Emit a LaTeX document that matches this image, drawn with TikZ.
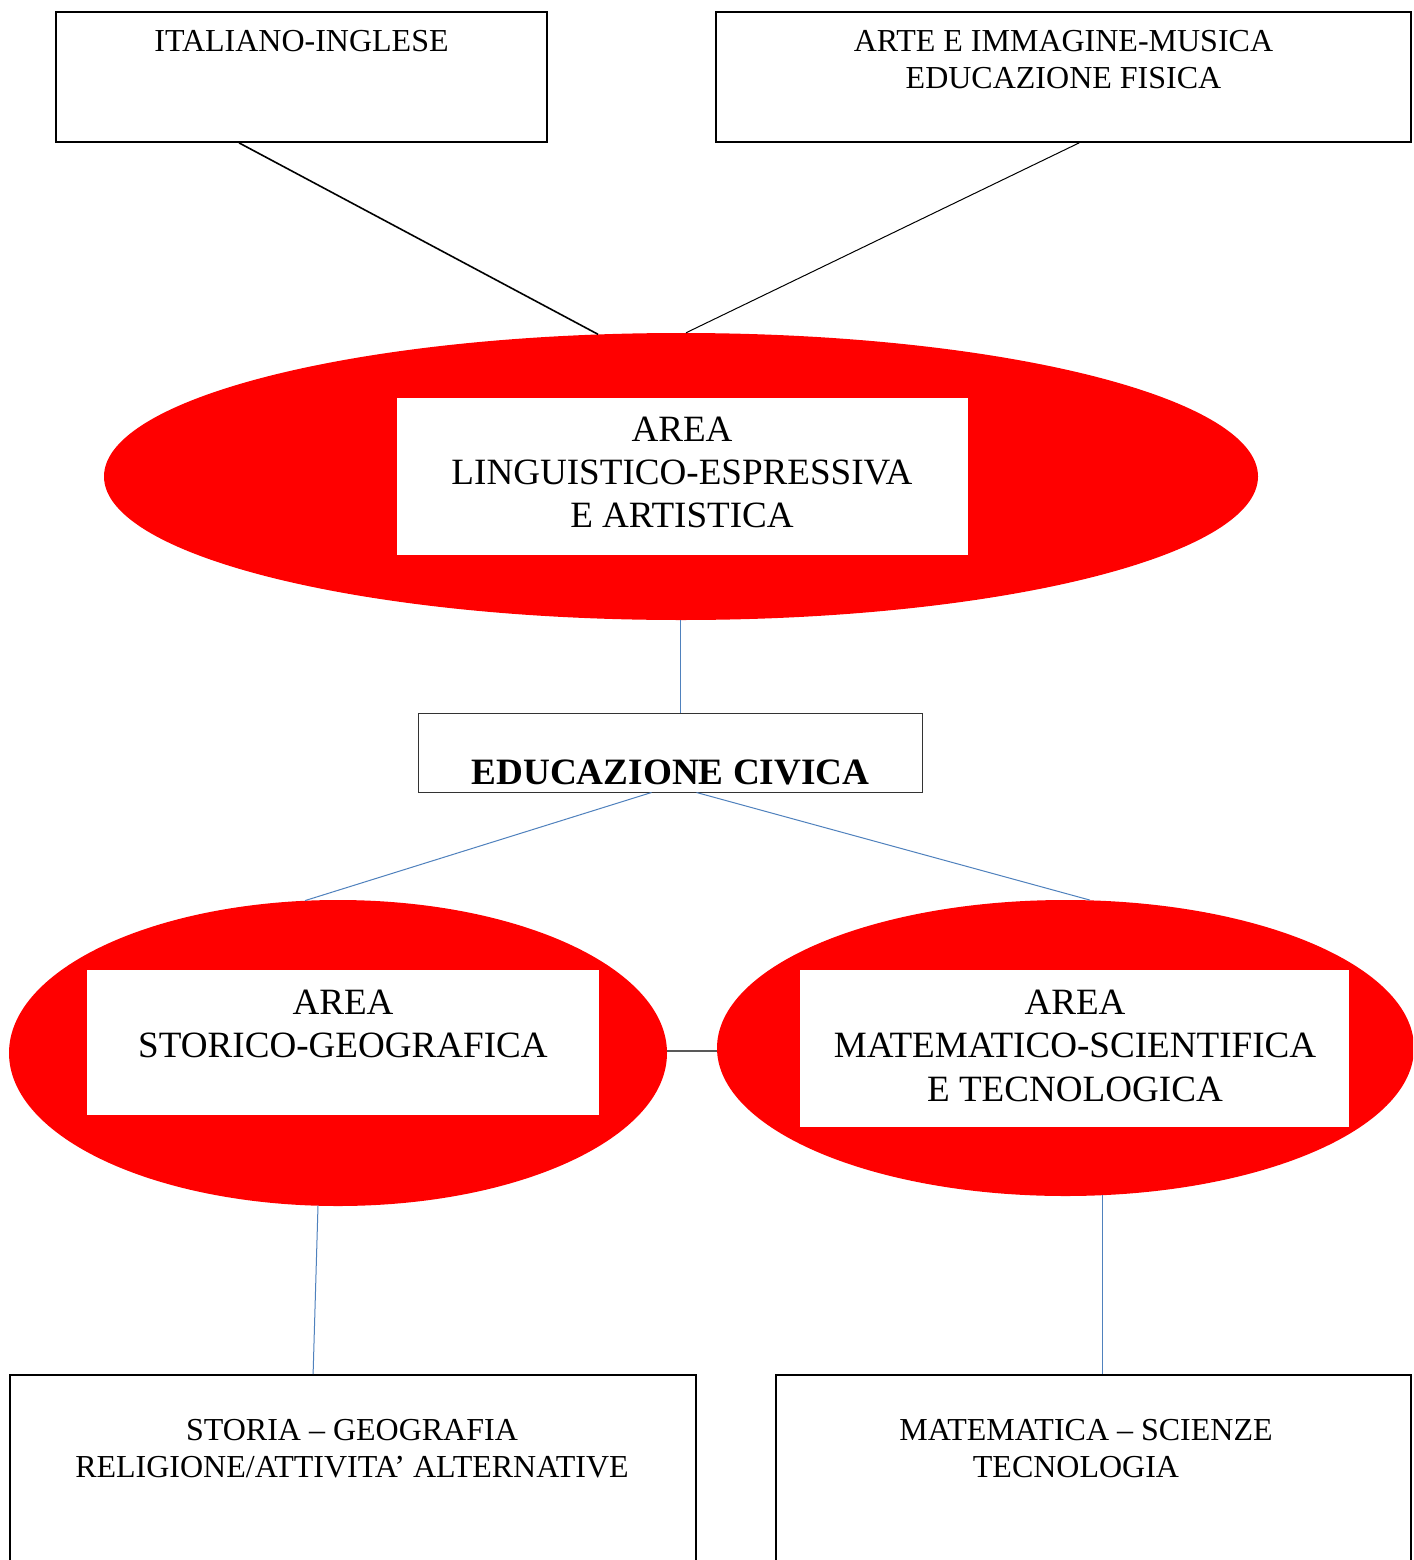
\documentclass[tikz,border=0pt]{standalone}
\usepackage{fontspec}
\setmainfont{Liberation Serif}
\usetikzlibrary{shapes.geometric,calc}
\definecolor{conblue}{HTML}{4F81BD}
\definecolor{areared}{HTML}{FF0000}
\begin{document}
\begin{tikzpicture}[x=1pt,y=-1pt,
  subjbox/.style={draw=black,line width=1.8pt,inner sep=0pt},
  areaell/.style={ellipse,fill=areared,draw=none,inner sep=0pt},
  whitebox/.style={fill=white,draw=none,inner sep=0pt},
  civbox/.style={draw=black!80,line width=1pt,inner sep=0pt},
  smalltxt/.style={anchor=north,inner sep=0pt,align=center,font=\fontsize{32}{36.7}\selectfont},
  bigtxt/.style={anchor=north,inner sep=0pt,align=center,font=\fontsize{37.1}{43.2}\selectfont},
  blueline/.style={draw=conblue,line width=1pt},
  blackline/.style={draw=black,line width=1.6pt},
  thinline/.style={draw=black,line width=1pt},
  grayline/.style={draw=black!65,line width=1.2pt}
]
\useasboundingbox (0,0) rectangle (1413,1560);
\clip (0,0) rectangle (1413,1560);
\fill[white] (0,0) rectangle (1413,1560);

% top subject boxes
\node[subjbox,minimum width=491pt,minimum height=130pt] (box1) at (301.5,77) {};
\node[subjbox,minimum width=695pt,minimum height=130pt] (box2) at (1063.5,77) {};
\node[smalltxt] (t1) at (301.5,30.1) {ITALIANO-INGLESE};
\node[smalltxt] (t2) at (1063.5,30.1) {ARTE E IMMAGINE-MUSICA\\EDUCAZIONE FISICA};

% top area ellipse
\node[areaell,minimum width=1154pt,minimum height=287pt] (ell1) at (681,476.5) {};
\node[whitebox,minimum width=571pt,minimum height=157pt] (wr1) at (682.5,476.5) {};
\node[bigtxt] (t3) at (682,416.9) {AREA\\LINGUISTICO-ESPRESSIVA\\E ARTISTICA};

% educazione civica
\node[civbox,minimum width=504pt,minimum height=79pt] (civ) at (670,752.5) {};
\node[anchor=base,inner sep=0pt,font=\fontsize{37.2}{43}\selectfont\bfseries] (t4) at (670.5,784.3) {EDUCAZIONE CIVICA};

% lower area ellipses
\node[areaell,minimum width=658pt,minimum height=306pt] (ell2) at (338,1053) {};
\node[whitebox,minimum width=512pt,minimum height=145pt] (wr2) at (343,1042.5) {};
\node[bigtxt] (t5) at (343,990) {AREA\\STORICO-GEOGRAFICA};

\node[areaell,minimum width=697pt,minimum height=296pt] (ell3) at (1065.5,1048) {};
\node[whitebox,minimum width=549pt,minimum height=157pt] (wr3) at (1074.5,1048.5) {};
\node[bigtxt] (t6) at (1075,990) {AREA\\MATEMATICO-SCIENTIFICA\\E TECNOLOGICA};

% bottom subject boxes
\node[subjbox,minimum width=686pt,minimum height=205pt] (bl) at (353,1477.5) {};
\node[subjbox,minimum width=635pt,minimum height=205pt] (br) at (1093.5,1477.5) {};
\node[smalltxt] (t7) at (352,1419) {STORIA – GEOGRAFIA\\RELIGIONE/ATTIVITA’ ALTERNATIVE};
\node[smalltxt] (t8) at (1086,1419) {MATEMATICA – SCIENZE\\TECNOLOGIA\hspace*{20pt}};

% connectors
\draw[blackline] ($(box1.south west)+(184,0)$) -- ($(ell1.north)+(-83,1.5)$);
\draw[thinline] ($(box2.south west)+(364,0)$) -- ($(ell1.north)+(5,0)$);
\draw[blueline] ($(ell1.south)+(-1,0)$) -- ($(ell1.south |- civ.north)+(-1,0)$);
\draw[blueline] ($(civ.south west)+(234,0)$) -- ($(ell2.north)+(-33,0.8)$);
\draw[blueline] ($(civ.south west)+(279,0)$) -- ($(ell3.north)+(24.5,0.3)$);
\draw[grayline] ($(ell2.east)+(0,-2)$) -- ($(ell3.west)+(0,3)$);
\draw[blueline] ($(ell2.south)+(-20,-0.6)$) -- ($(bl.north west)+(304,0)$);
\draw[blueline] ($(ell3.south)+(36.5,-0.8)$) -- ($(ell3.south |- br.north)+(36.5,0)$);
\end{tikzpicture}
\end{document}
